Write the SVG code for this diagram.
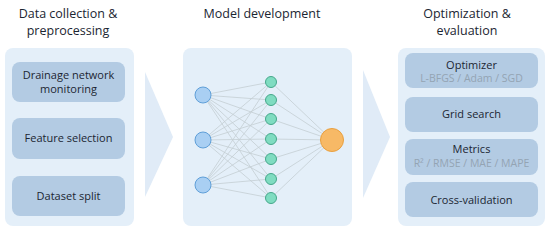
<svg xmlns="http://www.w3.org/2000/svg" width="550" height="231" viewBox="0 0 550 231">
<style>
.t{font-family:"Open Sans","Noto Sans",sans-serif;fill:#1b2632;text-anchor:middle}
.h{font-size:12.5px}
.b{font-size:11px}
.s{font-size:10.5px;fill:#94a4b3}
.panel{fill:#e4eff9}
.box{fill:#b3cbe3}
.chev{fill:#e0ebf7}
.e{stroke:#c4ced3;stroke-width:0.8;fill:none}
.in{fill:#a9cff3;stroke:#5f9fd8;stroke-width:1}
.hid{fill:#7fdcc1;stroke:#45a88b;stroke-width:1}
.out{fill:#f7b966;stroke:#e9a03f;stroke-width:1}
</style>
<rect width="550" height="231" fill="#ffffff"/>
<g id="title-data">
<text class="t h" x="68" y="18">Data collection &amp;</text>
<text class="t h" x="68" y="35">preprocessing</text>
</g>
<g id="title-model">
<text class="t h" x="262" y="18">Model development</text>
</g>
<g id="title-opt">
<text class="t h" x="467" y="18">Optimization &amp;</text>
<text class="t h" x="467" y="35">evaluation</text>
</g>
<g id="panel-data">
<rect class="panel" x="5" y="48" width="129" height="178" rx="8"/>
</g>
<g id="panel-model">
<rect class="panel" x="183" y="48" width="169" height="178" rx="8"/>
</g>
<g id="panel-opt">
<rect class="panel" x="398" y="48" width="147" height="178" rx="8"/>
</g>
<g id="connectors">
<polygon class="chev" points="145,72 173,137 145,197"/>
<polygon class="chev" points="363,70 390,137 363,198"/>
<g id="edges">
<path class="e" d="M203,95L271,82M203,95L271,100M203,95L271,119M203,95L271,139M203,95L271,159M203,95L271,179M203,95L271,198
M203,140L271,82M203,140L271,100M203,140L271,119M203,140L271,139M203,140L271,159M203,140L271,179M203,140L271,198
M203,185L271,82M203,185L271,100M203,185L271,119M203,185L271,139M203,185L271,159M203,185L271,179M203,185L271,198
M271,82L332,140M271,100L332,140M271,119L332,140M271,139L332,140M271,159L332,140M271,179L332,140M271,198L332,140"/>
</g>
</g>
<g id="box-drainage">
<rect class="box" x="12" y="62" width="113" height="40" rx="8"/>
<text class="t b" x="68.5" y="79">Drainage network</text>
<text class="t b" x="68.5" y="93">monitoring</text>
</g>
<g id="box-feature">
<rect class="box" x="12" y="118" width="113" height="41" rx="8"/>
<text class="t b" x="68.5" y="142">Feature selection</text>
</g>
<g id="box-split">
<rect class="box" x="12" y="176" width="113" height="40" rx="8"/>
<text class="t b" x="68.5" y="200">Dataset split</text>
</g>
<g id="nodes-input">
<circle class="in" cx="203" cy="95" r="8"/>
<circle class="in" cx="203" cy="140" r="8"/>
<circle class="in" cx="203" cy="185" r="8"/>
</g>
<g id="nodes-hidden">
<circle class="hid" cx="271" cy="82" r="5.5"/>
<circle class="hid" cx="271" cy="100" r="5.5"/>
<circle class="hid" cx="271" cy="119" r="5.5"/>
<circle class="hid" cx="271" cy="139" r="5.5"/>
<circle class="hid" cx="271" cy="159" r="5.5"/>
<circle class="hid" cx="271" cy="179" r="5.5"/>
<circle class="hid" cx="271" cy="198" r="5.5"/>
</g>
<g id="node-output">
<circle class="out" cx="332" cy="140" r="11.5"/>
</g>
<g id="box-optimizer">
<rect class="box" x="405" y="53" width="133" height="35" rx="8"/>
<text class="t b" x="471.5" y="69">Optimizer</text>
<text class="t s" x="471.5" y="82">L-BFGS / Adam / SGD</text>
</g>
<g id="box-grid">
<rect class="box" x="405" y="97" width="133" height="35" rx="8"/>
<text class="t b" x="471.5" y="118">Grid search</text>
</g>
<g id="box-metrics">
<rect class="box" x="405" y="139" width="133" height="36" rx="8"/>
<text class="t b" x="471.5" y="153">Metrics</text>
<text class="t s" x="471.5" y="167">R² / RMSE / MAE / MAPE</text>
</g>
<g id="box-cv">
<rect class="box" x="405" y="182" width="133" height="35" rx="8"/>
<text class="t b" x="471.5" y="204">Cross-validation</text>
</g>
</svg>
